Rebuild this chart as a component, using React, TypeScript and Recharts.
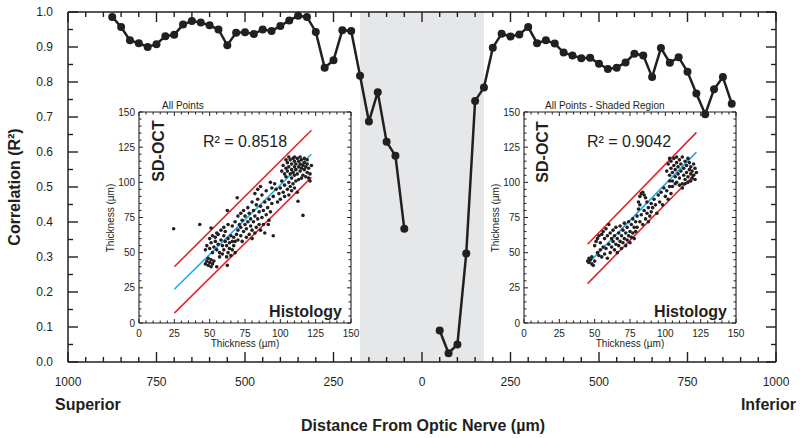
import React from "react";
import {
  ComposedChart,
  Line,
  XAxis,
  YAxis,
  ReferenceArea,
  ReferenceLine,
  ScatterChart,
  Scatter,
} from "recharts";

// distance from optic nerve (superior negative, inferior positive), µm
const DISTANCE = [
  -875, -850, -825, -800, -775, -750, -725, -700, -675, -650, -625, -600, -575, -550, -525, -500,
  -475, -450, -425, -400, -375, -350, -325, -300, -275, -250, -225, -200, -175, -150, -125, -100,
  -75, -50, -25, 0, 25, 50, 75, 100, 125, 150, 175, 200, 225, 250, 275, 300, 325, 350, 375, 400,
  425, 450, 475, 500, 525, 550, 575, 600, 625, 650, 675, 700, 725, 750, 775, 800, 825, 850, 875,
];

// correlation R² at each distance
const CORRELATION = [
  0.986, 0.957, 0.919, 0.911, 0.9, 0.908, 0.931, 0.935, 0.964, 0.974,
  0.97, 0.962, 0.95, 0.905, 0.941, 0.942, 0.937, 0.95, 0.946, 0.96,
  0.976, 0.989, 0.986, 0.943, 0.841, 0.862, 0.948, 0.946, 0.818, 0.687,
  0.771, 0.629, 0.589, 0.381, null, null, null, 0.09, 0.025, 0.05,
  0.31, 0.746, 0.784, 0.898, 0.938, 0.93, 0.936, 0.957, 0.911, 0.919,
  0.91, 0.884, 0.876, 0.868, 0.869, 0.852, 0.837, 0.841, 0.856, 0.881,
  0.876, 0.814, 0.897, 0.855, 0.871, 0.829, 0.767, 0.708, 0.779, 0.814,
  0.738,
];

const SHADED = [-175, 175];

const X_TICKS = [
  -1000, -950, -900, -850, -800, -750, -700, -650, -600, -550, -500, -450, -400, -350, -300, -250,
  -200, -150, -100, -50, 0, 50, 100, 150, 200, 250, 300, 350, 400, 450, 500, 550, 600, 650, 700,
  750, 800, 850, 900, 950, 1000,
];
const Y_TICKS = [
  0, 0.05, 0.1, 0.15, 0.2, 0.25, 0.3, 0.35, 0.4, 0.45, 0.5, 0.55, 0.6, 0.65, 0.7, 0.75, 0.8,
  0.85, 0.9, 0.95, 1,
];
const INSET_TICKS = [
  0, 5, 10, 15, 20, 25, 30, 35, 40, 45, 50, 55, 60, 65, 70, 75, 80, 85, 90, 95, 100, 105, 110,
  115, 120, 125, 130, 135, 140, 145, 150,
];

// histology thickness vs SD-OCT thickness (µm), all points
const ALL_POINTS: [number, number][] = [
  [24.5, 67], [43, 70], [62.5, 41], [69.5, 89], [62.5, 80], [95, 62], [112.5, 86.5], [116, 76.5], [91.5, 70], [51, 67.5],
  [47, 42], [48, 44], [49, 41], [50, 43], [51, 40], [52, 42], [53, 44], [49, 46], [55, 40], [51, 45],
  [47, 52], [48, 55], [50, 53], [51, 57], [52, 50], [53, 54], [54, 58], [55, 52], [56, 56], [57, 50],
  [50, 60], [52, 62], [54, 61], [56, 63], [58, 59], [59, 55], [60, 52], [61, 58], [57, 47], [59, 49],
  [60, 62], [61, 65], [62, 55], [63, 50], [63, 60], [64, 57], [64, 53], [65, 62], [65, 48], [66, 58],
  [62, 47], [66, 52], [67, 55], [67, 61], [68, 50], [68, 58], [55, 64], [58, 66], [60, 68], [63, 70],
  [69, 63], [70, 66], [70, 59], [71, 70], [72, 62], [72, 68], [73, 73], [73, 58], [74, 65], [75, 70],
  [75, 76], [76, 61], [76, 67], [77, 72], [78, 63], [78, 78], [79, 69], [79, 74], [80, 60], [80, 66],
  [68, 72], [70, 76], [72, 78], [74, 80], [66, 69], [77, 82],
  [81, 72], [81, 80], [82, 64], [82, 76], [83, 68], [83, 84], [84, 74], [84, 88], [85, 70], [85, 79],
  [86, 66], [86, 83], [87, 75], [87, 91], [88, 70], [88, 80], [89, 86], [89, 64], [90, 77], [90, 94],
  [91, 82], [92, 73], [92, 88], [93, 79], [94, 85], [94, 96], [95, 90], [93, 100], [96, 99], [97, 95],
  [82, 92], [84, 95], [86, 97], [80, 86],
  [98, 86], [99, 92], [100, 96], [100, 88], [101, 101], [102, 93], [103, 98], [103, 90], [104, 104], [105, 95],
  [106, 100], [106, 91], [107, 97], [108, 103], [108, 94], [109, 99], [110, 105], [110, 96], [111, 101], [112, 93],
  [101, 108], [102, 112], [103, 106], [104, 110], [105, 114], [105, 108], [106, 111], [107, 116], [107, 106], [108, 109],
  [108, 113], [109, 117], [109, 107], [110, 111], [110, 115], [111, 109], [111, 113], [112, 117], [112, 106], [113, 111],
  [113, 115], [114, 108], [114, 113], [115, 116], [115, 110], [116, 112], [116, 105], [117, 114], [117, 109], [118, 111],
  [118, 104], [119, 107], [119, 113], [120, 110], [120, 103], [121, 106], [122, 112], [121, 101], [113, 102], [115, 103],
  [104, 116], [106, 118], [110, 118], [114, 118], [117, 117], [119, 116],
];

// points from the shaded region only
const SHADED_POINTS: [number, number][] = [
  [45, 44], [46, 43], [47, 45], [48, 42], [49, 41], [50, 44], [46, 46], [48, 47],
  [50, 55], [51, 58], [52, 60], [53, 62], [54, 57], [55, 63], [56, 65], [57, 60], [58, 67], [59, 62], [60, 70], [61, 64],
  [52, 50], [53, 48], [54, 52], [55, 47], [56, 54], [57, 49], [58, 53], [59, 46], [60, 56], [61, 50],
  [62, 54], [62, 60], [63, 58], [63, 66], [64, 52], [64, 62], [65, 56], [65, 68], [66, 60], [66, 50],
  [67, 64], [67, 55], [68, 58], [68, 69], [69, 62], [69, 53], [70, 66], [70, 57], [71, 60], [71, 71],
  [72, 64], [72, 55], [73, 68], [73, 59], [74, 62], [74, 72], [75, 65], [75, 57], [76, 70], [76, 61],
  [77, 74], [77, 64], [78, 68], [78, 60], [79, 72], [79, 65], [80, 76], [80, 68],
  [81, 86], [82, 90], [83, 92], [84, 93], [85, 91], [86, 89], [87, 86], [82, 84], [81, 81],
  [82, 72], [83, 77], [84, 70], [85, 80], [86, 74], [87, 78], [88, 82], [88, 72], [89, 76], [90, 85],
  [90, 79], [91, 82], [92, 88], [93, 84], [94, 78], [95, 91], [96, 86], [97, 93], [98, 84], [99, 96],
  [100, 90], [101, 94], [102, 88], [103, 97], [104, 92],
  [101, 108], [102, 113], [103, 105], [104, 110], [104, 115], [105, 101], [105, 107], [106, 112], [106, 117], [107, 104],
  [107, 109], [108, 114], [108, 100], [109, 106], [109, 111], [110, 116], [110, 103], [111, 108], [111, 113], [112, 118],
  [112, 99], [113, 105], [113, 110], [114, 115], [114, 102], [115, 107], [115, 112], [116, 117], [116, 104], [117, 109],
  [117, 114], [118, 106], [118, 111], [119, 103], [119, 108], [120, 113], [120, 105], [121, 110], [122, 107], [121, 102],
  [103, 101], [105, 97], [107, 99], [110, 98], [112, 96], [114, 99], [116, 100], [118, 101], [103, 117], [108, 118],
];

// regression fit and bounds, [x, y] end points
const ALL_FIT = [[25, 24], [122, 120]];
const ALL_UPPER = [[25, 40], [122, 137]];
const ALL_LOWER = [[25, 7], [122, 103.5]];
const SHADED_FIT = [[45, 42], [122, 121.5]];
const SHADED_UPPER = [[45, 56], [122, 135.5]];
const SHADED_LOWER = [[45, 28], [122, 107]];

const INK = "#231f20";
const RED = "#e3262b";
const BLUE = "#27a9e1";
const FONT = "'Liberation Sans', Arial, sans-serif";

const mainData = DISTANCE.map((d, i) => ({ d, r: CORRELATION[i] }));

// ticks point inward; majors are longer and only bottom/left ones get labels
function mainXTick(side: "b" | "t") {
  return (p: any) => {
    const v = p.payload.value;
    const major = v % 250 === 0;
    const len = major ? 10 : 5;
    const dir = side === "b" ? -1 : 1;
    return (
      <g>
        <line x1={p.x} y1={p.y} x2={p.x} y2={p.y + dir * len} stroke={INK} strokeWidth={1.4} />
        {side === "b" && major && (
          <text x={p.x} y={p.y + 24} textAnchor="middle" fontSize={12} fill={INK} fontFamily={FONT}>
            {Math.abs(v)}
          </text>
        )}
      </g>
    );
  };
}

function mainYTick(side: "l" | "r") {
  return (p: any) => {
    const v = p.payload.value;
    const major = Math.round(v * 20) % 2 === 0;
    const len = major ? 10 : 5;
    const dir = side === "l" ? 1 : -1;
    return (
      <g>
        <line x1={p.x} y1={p.y} x2={p.x + dir * len} y2={p.y} stroke={INK} strokeWidth={1.4} />
        {side === "l" && major && (
          <text x={p.x - 15} y={p.y + 4} textAnchor="end" fontSize={12} fill={INK} fontFamily={FONT}>
            {v.toFixed(1)}
          </text>
        )}
      </g>
    );
  };
}

function insetTick(side: "b" | "t" | "l" | "r") {
  return (p: any) => {
    const v = p.payload.value;
    const major = v % 25 === 0;
    const len = major ? 4 : 2.5;
    let x2 = p.x;
    let y2 = p.y;
    if (side === "b") y2 = p.y - len;
    if (side === "t") y2 = p.y + len;
    if (side === "l") x2 = p.x + len;
    if (side === "r") x2 = p.x - len;
    return (
      <g>
        <line x1={p.x} y1={p.y} x2={x2} y2={y2} stroke={INK} strokeWidth={1} />
        {major && side === "b" && (
          <text x={p.x} y={p.y + 13.5} textAnchor="middle" fontSize={10} fill={INK} fontFamily={FONT}>
            {v}
          </text>
        )}
        {major && side === "l" && (
          <text x={p.x - 4} y={p.y + 3.5} textAnchor="end" fontSize={10} fill={INK} fontFamily={FONT}>
            {v}
          </text>
        )}
      </g>
    );
  };
}

const dot = (p: any) => <circle cx={p.cx} cy={p.cy} r={1.8} fill={INK} />;
const none = () => <g />;

function seg(pts: number[][]) {
  return pts.map(([x, y]) => ({ x, y }));
}

function Inset({ left, points, fit, upper, lower }: any) {
  const data = points.map(([x, y]: number[]) => ({ x, y }));
  const axisLine = { stroke: INK, strokeWidth: 1.1 };
  return (
    <div style={{ position: "absolute", left, top: 95 }}>
      <ScatterChart width={280} height={260} margin={{ top: 16, right: 18, bottom: 31, left: 48 }}>
        <XAxis xAxisId="b" type="number" dataKey="x" domain={[0, 150]} ticks={INSET_TICKS} interval={0}
          height={1} tickSize={0} tickMargin={0} tickLine={false} axisLine={axisLine} tick={insetTick("b")} />
        <XAxis xAxisId="t" orientation="top" type="number" dataKey="x" domain={[0, 150]} ticks={INSET_TICKS}
          interval={0} height={1} tickSize={0} tickMargin={0} tickLine={false} axisLine={axisLine} tick={insetTick("t")} />
        <YAxis yAxisId="l" type="number" dataKey="y" domain={[0, 150]} ticks={INSET_TICKS} interval={0}
          width={1} tickSize={0} tickMargin={0} tickLine={false} axisLine={axisLine} tick={insetTick("l")} />
        <YAxis yAxisId="r" orientation="right" type="number" dataKey="y" domain={[0, 150]} ticks={INSET_TICKS}
          interval={0} width={1} tickSize={0} tickMargin={0} tickLine={false} axisLine={axisLine} tick={insetTick("r")} />
        <Scatter xAxisId="b" yAxisId="l" data={data} shape={dot} isAnimationActive={false} />
        <Scatter xAxisId="t" yAxisId="r" data={data} shape={none} isAnimationActive={false} legendType="none" />
        <ReferenceLine xAxisId="b" yAxisId="l" segment={seg(upper)} stroke={RED} strokeWidth={1.6} ifOverflow="visible" />
        <ReferenceLine xAxisId="b" yAxisId="l" segment={seg(lower)} stroke={RED} strokeWidth={1.6} ifOverflow="visible" />
        <ReferenceLine xAxisId="b" yAxisId="l" segment={seg(fit)} stroke={BLUE} strokeWidth={1.6} ifOverflow="visible" />
      </ScatterChart>
    </div>
  );
}

export default function App() {
  const axisLine = { stroke: INK, strokeWidth: 1.5 };
  const t = { fill: INK, fontFamily: FONT } as const;
  return (
    <div style={{ position: "absolute", left: 0, top: 0, width: 800, height: 438, background: "#fff" }}>
      <div style={{ position: "absolute", left: 0, top: 0 }}>
        <ComposedChart width={800} height={438} data={mainData} margin={{ top: 11, right: 23, bottom: 75, left: 67 }}>
          <XAxis xAxisId="b" type="number" dataKey="d" domain={[-1000, 1000]} ticks={X_TICKS} interval={0}
            height={1} tickSize={0} tickMargin={0} tickLine={false} axisLine={axisLine} tick={mainXTick("b")} />
          <XAxis xAxisId="t" orientation="top" type="number" dataKey="d" domain={[-1000, 1000]} ticks={X_TICKS}
            interval={0} height={1} tickSize={0} tickMargin={0} tickLine={false} axisLine={axisLine} tick={mainXTick("t")} />
          <YAxis yAxisId="l" type="number" domain={[0, 1]} ticks={Y_TICKS} interval={0} width={1}
            tickSize={0} tickMargin={0} tickLine={false} axisLine={axisLine} tick={mainYTick("l")} />
          <YAxis yAxisId="r" orientation="right" type="number" domain={[0, 1]} ticks={Y_TICKS} interval={0}
            width={1} tickSize={0} tickMargin={0} tickLine={false} axisLine={axisLine} tick={mainYTick("r")} />
          <ReferenceArea xAxisId="b" yAxisId="l" x1={SHADED[0]} x2={SHADED[1]} y1={0} y2={1}
            fill="#e6e7e8" fillOpacity={1} stroke="none" />
          <Line xAxisId="t" yAxisId="r" dataKey="r" stroke="none" dot={false} activeDot={false}
            isAnimationActive={false} legendType="none" />
          <Line xAxisId="b" yAxisId="l" dataKey="r" stroke={INK} strokeWidth={2.5}
            dot={{ r: 4, fill: INK, stroke: "none" }} activeDot={false} connectNulls={false} isAnimationActive={false} />
        </ComposedChart>
      </div>

      <Inset left={90} points={ALL_POINTS} fit={ALL_FIT} upper={ALL_UPPER} lower={ALL_LOWER} />
      <Inset left={475} points={SHADED_POINTS} fit={SHADED_FIT} upper={SHADED_UPPER} lower={SHADED_LOWER} />

      <svg width={800} height={438} style={{ position: "absolute", left: 0, top: 0, pointerEvents: "none" }}>
        <text x={14} y={187} transform="rotate(-90 14 187)" textAnchor="middle" dominantBaseline="central"
          fontSize={16} fontWeight="bold" {...t}>Correlation (R²)</text>
        <text x={55} y={404} dominantBaseline="central" fontSize={16} fontWeight="bold" {...t}>Superior</text>
        <text x={796} y={404} textAnchor="end" dominantBaseline="central" fontSize={16} fontWeight="bold" {...t}>Inferior</text>
        <text x={423} y={425} textAnchor="middle" dominantBaseline="central" fontSize={16} fontWeight="bold" {...t}>
          Distance From Optic Nerve (µm)
        </text>

        <text x={162} y={105.5} dominantBaseline="central" fontSize={10} {...t}>All Points</text>
        <text x={110} y={218} transform="rotate(-90 110 218)" textAnchor="middle" dominantBaseline="central" fontSize={10} {...t}>Thickness (µm)</text>
        <text x={245} y={343} textAnchor="middle" dominantBaseline="central" fontSize={10} {...t}>Thickness (µm)</text>
        <text x={158} y={151} transform="rotate(-90 158 151)" textAnchor="middle" dominantBaseline="central" fontSize={16} fontWeight="bold" {...t}>SD-OCT</text>
        <text x={203} y={141} dominantBaseline="central" fontSize={16} {...t}>R² = 0.8518</text>
        <text x={342} y={311} textAnchor="end" dominantBaseline="central" fontSize={16} fontWeight="bold" {...t}>Histology</text>

        <text x={545} y={105.5} dominantBaseline="central" fontSize={10} {...t}>All Points - Shaded Region</text>
        <text x={495} y={218} transform="rotate(-90 495 218)" textAnchor="middle" dominantBaseline="central" fontSize={10} {...t}>Thickness (µm)</text>
        <text x={630} y={343} textAnchor="middle" dominantBaseline="central" fontSize={10} {...t}>Thickness (µm)</text>
        <text x={542} y={152} transform="rotate(-90 542 152)" textAnchor="middle" dominantBaseline="central" fontSize={16} fontWeight="bold" {...t}>SD-OCT</text>
        <text x={587} y={141} dominantBaseline="central" fontSize={16} {...t}>R² = 0.9042</text>
        <text x={727} y={311} textAnchor="end" dominantBaseline="central" fontSize={16} fontWeight="bold" {...t}>Histology</text>
      </svg>
    </div>
  );
}
